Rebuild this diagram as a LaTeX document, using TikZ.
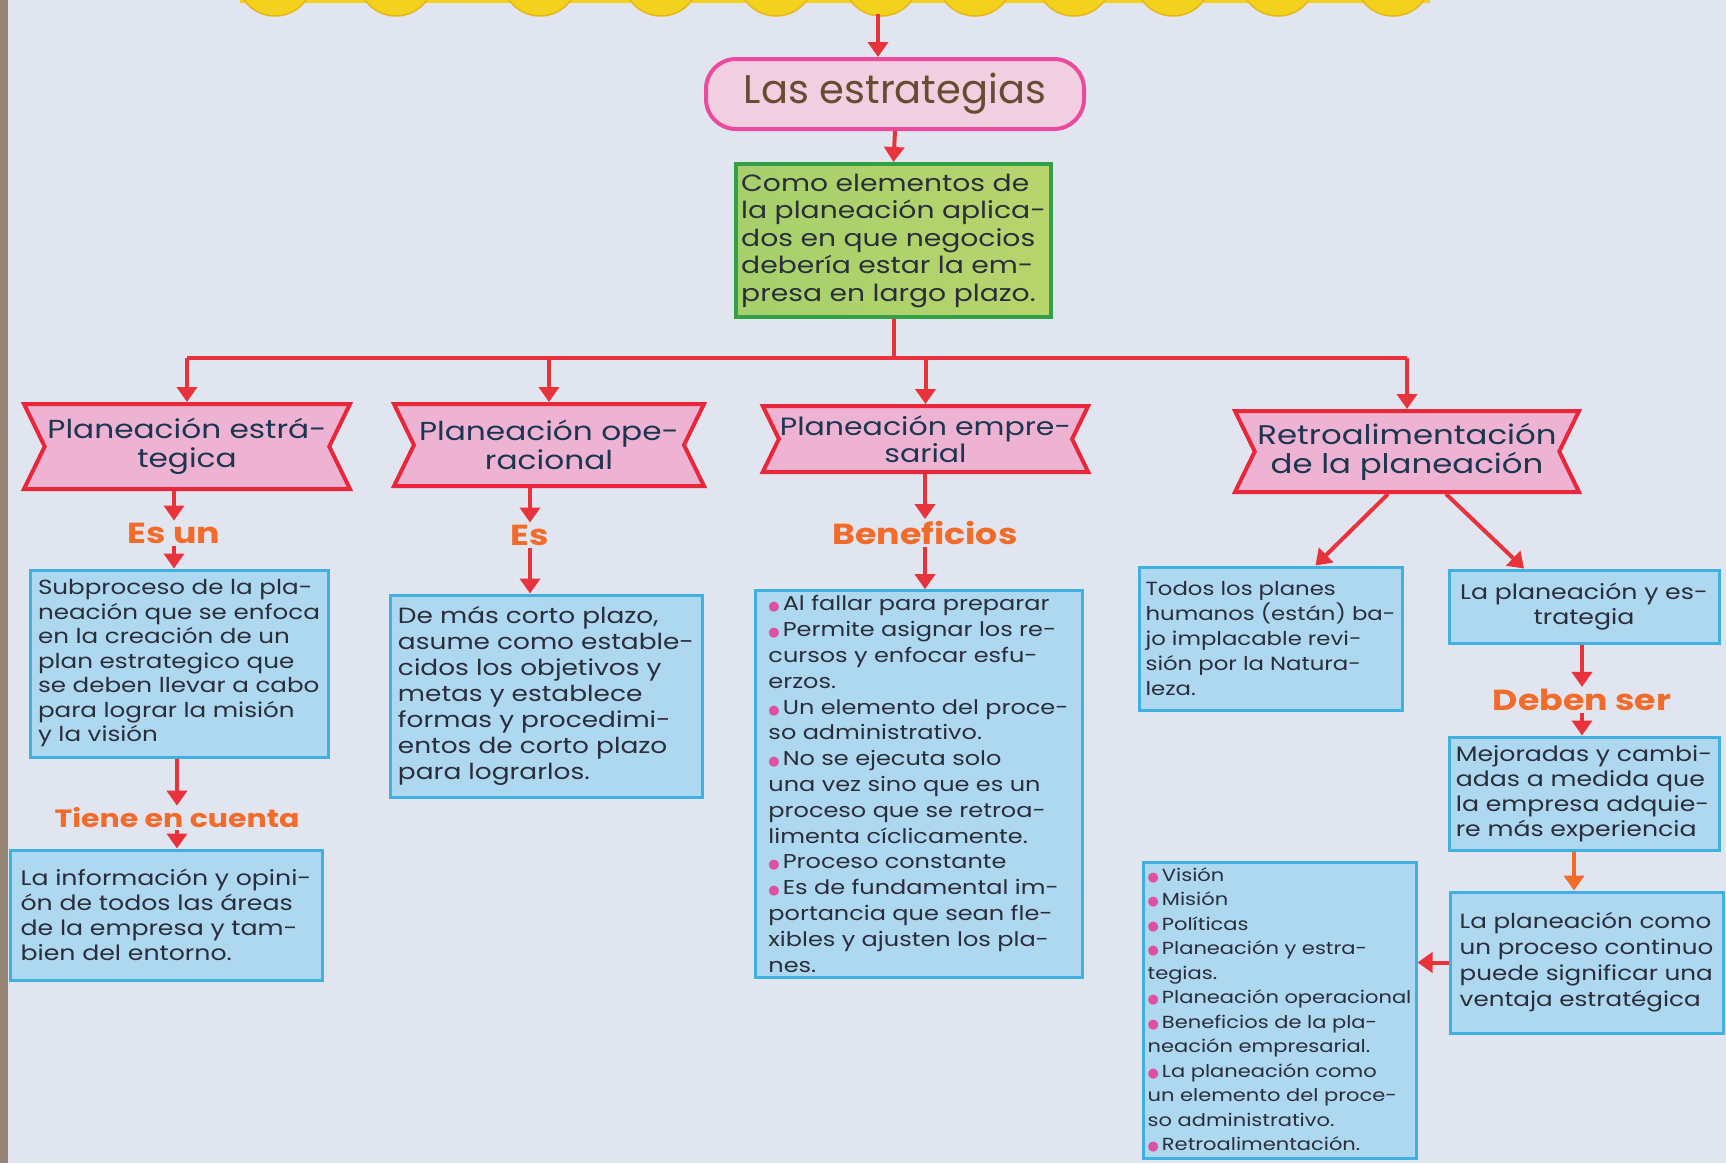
\documentclass[tikz,border=0pt]{standalone}
\usepackage{fontspec}
\setmainfont{Poppins}
\newfontfamily\hand{Poppins}[FakeStretch=1.2]
\newfontfamily\symfont{DejaVu Sans}
\usetikzlibrary{arrows.meta,shapes.symbols}
\definecolor{paper}{HTML}{E0E5EF}
\definecolor{redc}{HTML}{E8323C}
\definecolor{bannerbd}{HTML}{E8283A}
\definecolor{bannerfill}{HTML}{EEB3D3}
\definecolor{bannertext}{HTML}{1C3550}
\definecolor{pillbd}{HTML}{EC4A9C}
\definecolor{pillfill}{HTML}{F2CFE0}
\definecolor{pilltext}{HTML}{6A4A33}
\definecolor{greenbd}{HTML}{34A046}
\definecolor{greenL}{HTML}{A6D06C}
\definecolor{greenM}{HTML}{D2D86A}
\definecolor{greenR}{HTML}{B8D46C}
\definecolor{bluebd}{HTML}{3FB0E0}
\definecolor{bluefill}{HTML}{AED7F0}
\definecolor{boxtext}{HTML}{2A2D3A}
\definecolor{orangec}{HTML}{F26B2A}
\definecolor{bulc}{HTML}{E050A0}
\definecolor{yel}{HTML}{F2D21C}
\definecolor{yeledge}{HTML}{E8B51A}
\newcommand\bul{{\symfont\color{bulc}\fontsize{13}{13}\selectfont ●}\hspace{3pt}}
\newcommand\handsz[2]{\hand\fontsize{#1}{#2}\selectfont}
\begin{document}
\begin{tikzpicture}[x=1pt,y=-1pt,
  arr/.style={draw=redc, line width=4pt, -{Triangle[width=20pt,length=15pt]}},
  oarr/.style={draw=orangec, line width=4pt, -{Triangle[width=20pt,length=15pt]}},
  rline/.style={draw=redc, line width=4pt},
  bluebox/.style={draw=bluebd, fill=bluefill, line width=3pt, inner sep=5pt, align=left, text=boxtext, font=\handsz{21}{25}},
  banner/.style={signal, signal to=nowhere, signal from=west and east, signal pointer angle=128, draw=bannerbd, fill=bannerfill, line width=4pt, text=bannertext, align=center, font=\handsz{26}{29}, inner sep=1pt},
  lbl/.style={text=orangec, font=\hand\bfseries\fontsize{29}{31}\selectfont, inner sep=2pt}
]
\useasboundingbox (0,0) rectangle (1726,1163);
\fill[paper] (0,0) rectangle (1726,1163);
\fill[black!60!brown!60] (0,0) rectangle (8,1163);
% scallops
\fill[yel] (240,-5) rectangle (1430,3);
\foreach \cx in {275,396,540,661,776,881,975,1074,1173,1278,1393}
  \filldraw[fill=yel, draw=yeledge, line width=1.5pt] (\cx,-22) circle (38);
\coordinate (top) at (878,14);

% main nodes
\node[draw=pillbd, fill=pillfill, line width=4pt, rounded corners=30pt, minimum width=378pt, minimum height=70pt, text=pilltext, font=\fontsize{40}{44}\selectfont] (las) at (895,94) {Las estrategias};

\node[draw=greenbd, left color=greenL, middle color=greenM, right color=greenR, line width=4pt, minimum width=315pt, minimum height=153pt, align=left, text=boxtext, font=\handsz{23.5}{27.5}, inner sep=4pt] (green) at (893.5,240.5)
{Como elementos de\\la planeación aplica-\\dos en que negocios\\debería estar la em-\\presa en largo plazo.};

\coordinate (bar) at (893.5,358);

% banners
\node[banner, minimum width=326pt, minimum height=85pt] (ban1) at (187,446.5) {Planeación estrá-\\tegica};
\node[banner, minimum width=310pt, minimum height=82pt] (ban2) at (549,445) {Planeación ope-\\racional};
\node[banner, minimum width=325pt, minimum height=66pt, font=\handsz{25}{27}] (ban3) at (925.5,439) {Planeación empre-\\sarial};
\node[banner, minimum width=344pt, minimum height=81pt, font=\handsz{27}{29}] (ban4) at (1407,451.5) {Retroalimentación\\de la planeación};

% labels
\node[lbl] (esun) at (174,533) {Es un};
\node[lbl, font=\hand\bfseries\fontsize{25}{27}\selectfont] (tiene) at (177,818) {Tiene en cuenta};
\node[lbl] (es) at (530,535) {Es};
\node[lbl] (benef) at (925,533) {Beneficios};
\node[lbl] (deben) at (1582,700) {Deben ser};

% boxes
\node[bluebox, minimum width=298pt, minimum height=187pt, font=\handsz{20.5}{24.5}] (b1) at (179,663.5)
{Subproceso de la pla-\\neación que se enfoca\\en la creación de un\\plan estrategico que\\se deben llevar a cabo\\para lograr la misión\\y la visión};
\node[bluebox, minimum width=312pt, minimum height=130pt] (b1b) at (166,915)
{La información y opini-\\ón de todos las áreas\\de la empresa y tam-\\bien del entorno.};
\node[bluebox, minimum width=312pt, minimum height=202pt, font=\handsz{22}{26}] (b2) at (546,696)
{De más corto plazo,\\asume como estable-\\cidos los objetivos y\\metas y establece\\formas y procedimi-\\entos de corto plazo\\para lograrlos.};
\node[bluebox, minimum width=327pt, minimum height=382pt, font=\handsz{20}{25.8}] (b3) at (918.5,784)
{\bul Al fallar para preparar\\\bul Permite asignar los re-\\cursos y enfocar esfu-\\erzos.\\\bul Un elemento del proce-\\so administrativo.\\\bul No se ejecuta solo\\una vez sino que es un\\proceso que se retroa-\\limenta cíclicamente.\\\bul Proceso constante\\\bul Es de fundamental im-\\portancia que sean fle-\\xibles y ajusten los pla-\\nes.};
\node[bluebox, minimum width=263pt, minimum height=143pt, font=\handsz{19}{25}] (b4a) at (1270.5,638.5)
{Todos los planes\\humanos (están) ba-\\jo implacable revi-\\sión por la Natura-\\leza.};
\node[bluebox, align=center, minimum width=270pt, minimum height=73pt] (b4b) at (1584,606.5)
{La planeación y es-\\trategia};
\node[bluebox, minimum width=270pt, minimum height=113pt] (b4c) at (1584,793.5)
{Mejoradas y cambi-\\adas a medida que\\la empresa adquie-\\re más experiencia};
\node[bluebox, minimum width=273pt, minimum height=141pt, font=\handsz{20.5}{26}] (b4d) at (1586.5,962.5)
{La planeación como\\un proceso continuo\\puede significar una\\ventaja estratégica};
\node[bluebox, minimum width=273pt, minimum height=296pt, font=\handsz{17.5}{24.5}, inner sep=4pt] (b5) at (1279.5,1010)
{\bul Visión\\\bul Misión\\\bul Políticas\\\bul Planeación y estra-\\tegias.\\\bul Planeación operacional\\\bul Beneficios de la pla-\\neación empresarial.\\\bul La planeación como\\un elemento del proce-\\so administrativo.\\\bul Retroalimentación.};

% connectors
\draw[arr] (top) -- (top |- las.north);
\draw[arr] (las.south) -- (green.north);
\draw[rline] (green.south) -- (bar);
\draw[rline] (ban1.north |- bar) -- (ban4.north |- bar);
\foreach \b in {ban1,ban2,ban3,ban4}
  \draw[arr] (\b.north |- bar) -- (\b.north);
\draw[arr] (ban1.south -| esun) -- (esun.north);
\draw[arr] (esun.south) -- (esun.south |- b1.north);
\draw[arr] (b1.south -| tiene) -- (tiene.north);
\draw[arr] (tiene.south) -- (tiene.south |- b1b.north);
\draw[arr] (ban2.south -| es) -- (es.north);
\draw[arr] (es.south) -- (es.south |- b2.north);
\draw[arr] (ban3.south -| benef) -- (benef.north);
\draw[arr] (benef.south) -- (benef.south |- b3.north);
\draw[arr] ([xshift=-19pt]ban4.south) -- ([xshift=45pt]b4a.north);
\draw[arr] ([xshift=39pt]ban4.south) -- ([xshift=-60pt]b4b.north);
\draw[arr] (b4b.south -| deben) -- (deben.north);
\draw[arr] (deben.south) -- (deben.south |- b4c.north);
\draw[oarr] (b4c.south -| 1574,0) -- (b4d.north -| 1574,0);
\draw[arr] (b4d.west) -- (b4d.west -| b5.east);
\end{tikzpicture}
\end{document}
